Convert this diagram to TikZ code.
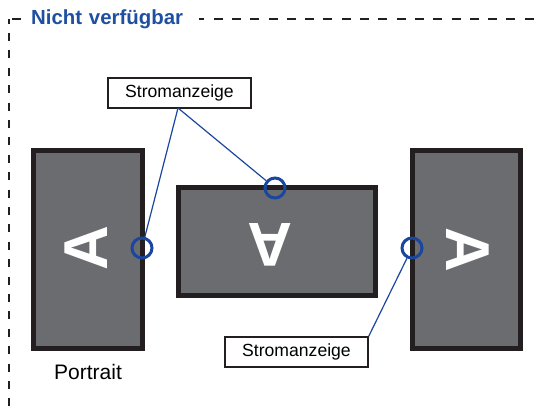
\documentclass[tikz,border=0pt]{standalone}
\usepackage{fontspec}
\setmainfont{Liberation Sans}
\definecolor{ttlblue}{HTML}{1F4FA0}
\definecolor{ledblue}{HTML}{1A46A0}
\definecolor{scrgray}{HTML}{6B6C70}
\definecolor{frm}{HTML}{231F20}
\tikzset{
  screen/.style={draw=frm, line width=5pt, fill=scrgray, inner sep=0pt},
  led/.style={draw=ledblue, line width=3pt, circle, minimum size=20pt, inner sep=0pt},
  callout/.style={draw=frm, line width=1.4pt, fill=white, minimum width=143pt, minimum height=30pt, inner sep=0pt, font=\fontsize{17.6}{20}\selectfont},
  leader/.style={draw=ledblue, line width=1.2pt},
  bigA/.style={text=white, font=\fontsize{62}{62}\selectfont\bfseries, inner sep=0pt},
  topborder/.style={draw=frm, line width=2pt, dash pattern=on 9pt off 9.3pt, dash phase=-3.3pt},
  sideborder/.style={draw=frm, line width=2pt, dash pattern=on 8pt off 9.4pt, dash phase=3.4pt}
}
\begin{document}
\begin{tikzpicture}[x=1pt,y=-1pt]
\useasboundingbox (0,0) rectangle (541,415);
% dashed border
\coordinate (bl) at (9,416);
\coordinate (tl) at (9,19);
\coordinate (tr) at (545,19);
\draw[topborder] (tl) -- (tr);
\draw[sideborder] (tl) -- (bl);
\node[fill=white, inner sep=2pt, text width=166pt, align=left, anchor=west, text=ttlblue, font=\fontsize{20.4}{20}\selectfont\bfseries] (title) at (29,19) {Nicht verfügbar};
% screens
\node[screen, minimum width=109pt, minimum height=198pt] (s1) at (88,249.5) {};
\node[screen, minimum width=197pt, minimum height=108pt] (s2) at (277,241.5) {};
\node[screen, minimum width=108pt, minimum height=198pt] (s3) at (466.5,249.5) {};
\node[bigA, rotate=90] (a1) at (86,248) {A};
\node[bigA, rotate=180] (a2) at (270,245) {A};
\node[bigA, rotate=-90] (a3) at (468,250) {A};
% callouts
\node[callout] (c1) at (179.5,93) {Stromanzeige};
\node[callout] (c2) at (296.5,352) {Stromanzeige};
\coordinate (c1p) at (178,108);
% leds
\node[led] (l1) at (142,248) {};
\node[led] (l2) at (275,188) {};
\node[led] (l3) at (412,248) {};
\draw[leader] (c1p) -- (l1);
\draw[leader] (c1p) -- (l2);
\draw[leader] (c2.north east) -- (l3);
% label
\node[font=\fontsize{21}{21}\selectfont] (pt) at (88,372) {Portrait};
\end{tikzpicture}
\end{document}
